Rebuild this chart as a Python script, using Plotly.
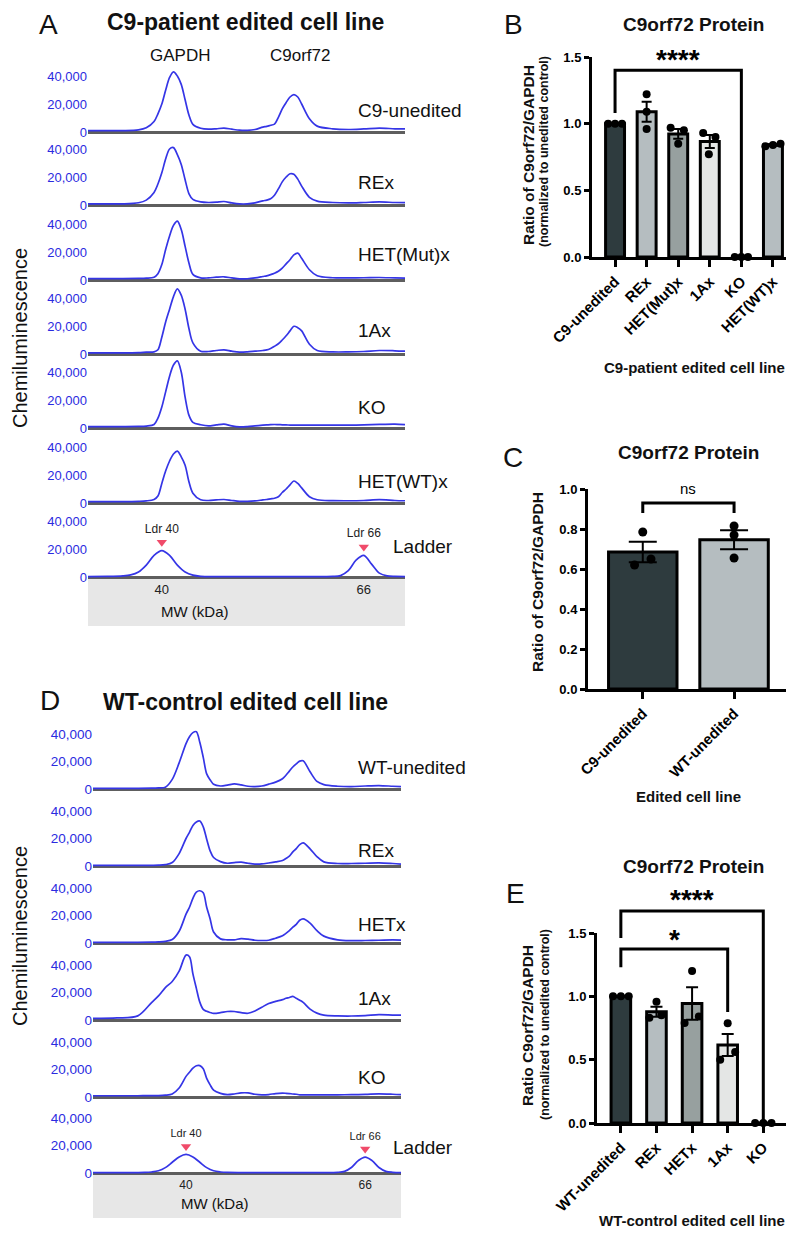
import numpy as np
import plotly.graph_objects as go

# ======================= DATA =======================
# Panel A electropherograms (x = MW in kDa, y = chemiluminescence in thousands)
mw_A = [30.5, 33, 35, 37, 38, 39, 39.5, 40, 40.5, 41, 41.5, 42, 42.5, 43, 43.5, 44, 45, 46, 47, 48,
        49, 50, 51, 52, 53, 53.5, 54, 54.5, 55, 55.5, 56, 56.5, 57, 57.5, 58, 59, 60, 62, 64, 66,
        68, 70, 71.3]
a_c9_unedited_k = [1.0, 1.0, 1.0, 1.5, 3.0, 7.5, 13, 20, 30, 39, 43, 40, 34, 23, 12, 5.5, 2.7, 2.0, 2.3, 2.8,
                   2.0, 1.3, 1.2, 1.8, 3.5, 4.0, 4.8, 5.6, 10.5, 16.5, 21, 25, 26.7, 25, 20, 9.5, 4.2, 2.3, 1.8, 2.2,
                   2.8, 2.3, 2.2]
a_rex_k = [0.8, 0.8, 0.8, 1.6, 3.5, 9, 15, 23, 33, 40, 41, 36, 29, 18, 8, 4, 2.2, 1.8, 2.0, 2.5,
           1.5, 0.8, 0.8, 1.5, 3.0, 3.5, 4.5, 7, 11.5, 16.5, 20, 22.3, 22, 18.5, 13.5, 5.5, 2.8, 1.8, 1.5, 1.8,
           2.2, 1.8, 1.7]
a_hetmut_k = [1.0, 1.0, 1.0, 1.1, 1.3, 2.0, 4.5, 11, 22, 31.5, 39, 42, 36, 24, 12, 4, 1.5, 1.5, 2.0, 2.3,
              1.5, 0.8, 0.9, 1.5, 2.5, 3, 3.8, 4.8, 6.2, 8.5, 11.5, 14.5, 18, 19.2, 15.5, 7.3, 3, 1.6, 1.5, 1.6,
              1.8, 1.5, 1.4]
a_1ax_k = [0.8, 0.8, 0.8, 1.0, 1.3, 1.5, 3, 12, 23, 32, 41, 46.5, 42, 32, 18, 8, 2, 1.8, 2.5, 3.0,
           2.0, 1.3, 1.5, 2, 2.5, 2.9, 4, 5.5, 7.3, 10, 13, 16.5, 19.8, 18.8, 16.5, 7, 2.5, 1.5, 1.5, 1.8,
           2.5, 2.3, 2]
a_ko_k = [1.0, 1.0, 1.0, 1.1, 1.4, 2.5, 7, 15, 26, 37, 45, 48, 40, 22, 9, 4, 2.3, 1.5, 2.2, 2.8,
          1.5, 0.8, 1.0, 1.5, 2.0, 2.2, 2.4, 2.5, 2.4, 2.3, 2.2, 2.1, 2.0, 2.0, 2.0, 2.0, 2.0, 2.0, 2.0, 2.2,
          2.6, 2.8, 2.4]
a_hetwt_k = [1.0, 1.0, 1.0, 1.2, 1.5, 2.5, 5, 14, 23, 30, 35, 37, 33, 27, 15, 7, 2.3, 1.8, 2.2, 2.5,
             1.8, 1.2, 1.2, 1.5, 2.2, 2.5, 3.0, 3.4, 4.5, 7.5, 10, 13, 15.7, 14, 10.8, 4.5, 2.3, 1.7, 1.6, 1.8,
             2.4, 1.8, 1.6]
ladder_mw_A = [30.5, 33, 35, 36, 37, 38, 39, 40, 41, 42, 43, 44, 45, 47, 50, 55, 60, 62, 63, 64,
               65, 66, 67, 68, 69, 70, 71.3]
ladder_A_k = [0.3, 0.4, 0.8, 1.5, 3.6, 8.5, 15.4, 18.8, 15.4, 8.5, 3.6, 1.3, 0.5, 0.3, 0.3, 0.3, 0.3, 0.4, 1.0, 4.5,
              12.0, 15.4, 9.2, 2.8, 0.8, 0.4, 0.3]
a_row_names = ["C9-unedited", "REx", "HET(Mut)x", "1Ax", "KO", "HET(WT)x"]

# Panel D electropherograms
mw_D = [26.5, 30, 33, 35, 36, 37, 38, 39, 40, 40.5, 41, 41.5, 42, 42.5, 43, 43.5, 44, 45, 46, 47,
        48, 49, 50, 51, 52, 53, 54, 54.5, 55, 55.5, 56, 56.5, 57, 58, 59, 60, 62, 64, 66, 68,
        70, 71.2]
d_wt_unedited_k = [0.5, 0.5, 0.5, 0.6, 0.8, 1.3, 7, 19, 33, 38, 41, 41.7, 34, 23, 11, 6.7, 3.5, 2.2, 2.8, 3.7,
                   3.0, 2.0, 1.8, 2.2, 3.5, 5, 7.5, 10, 13, 16, 18.3, 20.3, 20.5, 12.5, 5.5, 3.2, 2, 1.7, 2.2, 2.5,
                   2.0, 1.7]
d_rex_k = [0.4, 0.4, 0.4, 0.5, 0.6, 1.0, 2.5, 9, 20, 24.5, 29.5, 32, 32.7, 28.5, 19.5, 11, 6.2, 3.2, 2.0, 2.5,
           2.8, 2.0, 1.4, 1.5, 2.2, 3.0, 4.0, 5.5, 7.2, 10.3, 12.7, 15.5, 16.8, 12.5, 6.8, 3.0, 1.8, 1.8, 2.0, 2.3,
           1.8, 1.4]
d_hetx_k = [0.5, 0.5, 0.5, 0.6, 0.8, 1.2, 2.5, 8.5, 21, 26, 32.5, 37, 38, 36.5, 26, 17.5, 8, 3, 2.3, 2.3,
            3.2, 2.8, 2.0, 1.8, 2.0, 3.5, 5.3, 7, 9, 11.5, 13.5, 16.5, 17.5, 14.5, 9, 5, 2.3, 1.7, 1.8, 2.0,
            2.2, 2.1]
d_1ax_k = [1.2, 1.5, 3.0, 12.7, 17.5, 23.5, 28, 35.5, 47.2, 46, 33.5, 23, 13, 7.7, 6.3, 5.5, 4.8, 5.3, 6.2, 6.2,
           5.3, 4.9, 6.5, 9.3, 12, 13.5, 14.8, 15.8, 16.4, 17.2, 15.8, 14.4, 12.8, 7.9, 5.0, 3.5, 3.0, 2.9, 3.2, 3.9,
           3.6, 3.5]
d_ko_k = [0.9, 0.9, 0.9, 1.0, 1.0, 1.3, 2.2, 6.5, 15, 18, 21, 22.7, 22.8, 20.5, 13.5, 8.8, 5, 2.6, 1.7, 2.2,
          3.0, 3.0, 2.0, 1.6, 1.8, 2.5, 2.8, 2.7, 2.5, 2.2, 2.0, 1.6, 1.6, 1.6, 1.6, 1.6, 1.6, 1.7, 1.9, 2.3,
          2.0, 1.7]
ladder_mw_D = [26.5, 30, 33, 34, 35, 36, 37, 38, 39, 40, 41, 42, 43, 44, 45, 46, 48, 52, 56, 60,
               62, 63, 64, 65, 66, 67, 68, 69, 70, 71.2]
ladder_D_k = [0.3, 0.3, 0.3, 0.4, 0.75, 1.6, 3.9, 7.8, 11.7, 13.5, 11.7, 7.8, 3.9, 1.6, 0.75, 0.4, 0.3, 0.3, 0.3, 0.3,
              0.5, 1.2, 4.0, 9.0, 11.6, 9.0, 4.0, 1.2, 0.5, 0.3]
d_row_names = ["WT-unedited", "REx", "HETx", "1Ax", "KO"]

ladder_marks_kda = [40, 66]
ladder_mark_text = ["Ldr 40", "Ldr 66"]

# Panel B / C / E bar charts (individual replicate values)
b_categories = ["C9-unedited", "REx", "HET(Mut)x", "1Ax", "KO", "HET(WT)x"]
b_points = [[1.0, 1.0, 1.0], [1.22, 1.09, 0.96], [0.97, 0.95, 0.85],
            [0.93, 0.90, 0.77], [0.0, 0.0, 0.0], [0.83, 0.84, 0.85]]
c_categories = ["C9-unedited", "WT-unedited"]
c_points = [[0.785, 0.65, 0.62], [0.815, 0.77, 0.655]]
e_categories = ["WT-unedited", "REx", "HETx", "1Ax", "KO"]
e_points = [[1.0, 1.0, 1.0], [0.957, 0.83, 0.85], [1.2, 0.84, 0.79],
            [0.787, 0.56, 0.50], [0.0, 0.0, 0.0]]

# ======================= STYLE / LAYOUT =======================
# page body has an 8px default margin: figure is sized/offset so that it fills the 794x1233 window
OFF = 8
W, H = 786, 1225
FONT = "Arial, Liberation Sans, Helvetica, sans-serif"
BLUE_LINE = "#3535e6"
BLUE_TICK = "#2b2be0"
DARK = "#2e3b3e"
LIGHT = "#b5bdc0"
MID = "#97a09f"
PALE = "#e4e6e5"

b_colors = [DARK, LIGHT, MID, PALE, LIGHT, LIGHT]
c_colors = [DARK, LIGHT]
e_colors = [DARK, LIGHT, MID, PALE, LIGHT]
b_offsets = [[-0.22, 0, 0.22], [0, 0, 0], [-0.24, 0.18, 0], [-0.21, 0.18, -0.03], [-0.21, 0, 0.21], [-0.24, 0, 0.24]]
c_offsets = [[0, 0.09, -0.09], [0, 0, 0]]
e_offsets = [[-0.22, 0, 0.22], [0, -0.2, 0.14], [0, 0.19, -0.21], [0, 0.21, -0.21], [-0.23, 0, 0.23]]


def fx(x):
    return (x - OFF) / W


def fy(y):
    return 1 - (y - OFF) / H


layout = dict(width=W, height=H, margin=dict(l=0, r=0, t=0, b=0, pad=0, autoexpand=False),
              paper_bgcolor="white", plot_bgcolor="rgba(0,0,0,0)", showlegend=False,
              font=dict(family=FONT, color="#111"))
data, shapes, annotations = [], [], []
counter = {"n": 0}


def axkeys():
    counter["n"] += 1
    n = counter["n"]
    s = "" if n == 1 else str(n)
    return "xaxis" + s, "yaxis" + s, "x" + s, "y" + s


def text(x, y, s, size, bold=False, color="#111", angle=0, xanchor="center", yanchor="middle"):
    annotations.append(dict(x=fx(x), y=fy(y), xref="paper", yref="paper", text=s, showarrow=False,
                            font=dict(family=FONT, size=size, color=color, weight=700 if bold else 400),
                            textangle=angle, xanchor=xanchor, yanchor=yanchor, borderpad=0))


def trace_row(mw, vals_k, zero_px, ppu, x0px, x1px, ytick_size, ladder_tick_size=None):
    xk, yk, xr, yr = axkeys()
    layout[xk] = dict(domain=[fx(x0px), fx(x1px)], range=[mw[0], mw[-1]], anchor=yr, showgrid=False,
                      zeroline=False, showline=False, ticks="", showticklabels=False, automargin=False)
    if ladder_tick_size:
        layout[xk].update(showticklabels=True, tickvals=ladder_marks_kda,
                          tickfont=dict(family=FONT, size=ladder_tick_size, color="#222"))
    layout[yk] = dict(domain=[fy(zero_px + 3), fy(zero_px - 70)], range=[-3 / ppu, 70 / ppu], anchor=xr,
                      showgrid=False, zeroline=True, zerolinecolor="#5e5e5e", zerolinewidth=2.5,
                      showline=False, ticks="", tickvals=[0, 20000, 40000], tickformat=",", automargin=False,
                      tickfont=dict(family=FONT, size=ytick_size, color=BLUE_TICK))
    data.append(go.Scatter(x=mw, y=[v * 1000 for v in vals_k], xaxis=xr, yaxis=yr, mode="lines",
                           line=dict(color=BLUE_LINE, width=1.7, shape="spline", smoothing=0.9),
                           hoverinfo="skip"))
    return xr, yr


def ladder_markers(xr, yr, mw, vals_k, lift, label_size):
    peaks = np.interp(ladder_marks_kda, mw, vals_k) * 1000
    data.append(go.Scatter(x=ladder_marks_kda, y=peaks + lift, xaxis=xr, yaxis=yr, mode="markers+text",
                           marker=dict(symbol="triangle-down", size=9, color="#f04b6a"),
                           text=ladder_mark_text, textposition="top center",
                           textfont=dict(family=FONT, size=label_size, color="#222"), cliponaxis=False))


class BarPanel:
    def __init__(self, cats, points, offsets, colors, x0px, x1px, ytop_px, ybot_px, xrange_, yrange_,
                 ytickvals, barw, capw, msize):
        self.x0, self.x1, self.yt, self.yb = x0px, x1px, ytop_px, ybot_px
        self.xr, self.yr = xrange_, yrange_
        xk, yk, xref, yref = axkeys()
        layout[xk] = dict(domain=[fx(x0px), fx(x1px)], range=xrange_, anchor=yref, showgrid=False,
                          zeroline=False, showline=True, linecolor="black", linewidth=3, ticks="outside",
                          ticklen=7, tickwidth=3, tickcolor="black", tickvals=list(range(len(cats))),
                          ticktext=cats, tickangle=-45, automargin=False,
                          tickfont=dict(family=FONT, size=15, color="black", weight=700))
        layout[yk] = dict(domain=[fy(ybot_px), fy(ytop_px)], range=yrange_, anchor=xref, showgrid=False,
                          zeroline=False, showline=True, linecolor="black", linewidth=3, ticks="outside",
                          ticklen=5, tickwidth=3, tickcolor="black", tickvals=ytickvals, tickformat=".1f",
                          automargin=False,
                          tickfont=dict(family=FONT, size=13, color="black", weight=700))
        means = [float(np.mean(p)) for p in points]
        sems = [float(np.std(p, ddof=1) / np.sqrt(len(p))) for p in points]
        xs = list(range(len(cats)))
        data.append(go.Bar(x=xs, y=means, width=barw, xaxis=xref, yaxis=yref, cliponaxis=False,
                           marker=dict(color=colors, line=dict(color="black", width=3)),
                           error_y=dict(type="data", array=sems, visible=True, color="black",
                                        thickness=2, width=capw), hoverinfo="skip"))
        px_, py_ = [], []
        for i, (p, o) in enumerate(zip(points, offsets)):
            for v, d in zip(p, o):
                px_.append(i + d)
                py_.append(v)
        data.append(go.Scatter(x=px_, y=py_, xaxis=xref, yaxis=yref, mode="markers", cliponaxis=False,
                               marker=dict(color="black", size=msize), hoverinfo="skip"))

    def X(self, v):
        return self.x0 + (v - self.xr[0]) / (self.xr[1] - self.xr[0]) * (self.x1 - self.x0)

    def Y(self, v):
        return self.yb - (v - self.yr[0]) / (self.yr[1] - self.yr[0]) * (self.yb - self.yt)

    def bracket(self, xa, xb, ytop, ya, yb, label, size, bold=True, lift=0):
        p = (f"M{fx(self.X(xa))},{fy(self.Y(ya))} L{fx(self.X(xa))},{fy(self.Y(ytop))} "
             f"L{fx(self.X(xb))},{fy(self.Y(ytop))} L{fx(self.X(xb))},{fy(self.Y(yb))}")
        shapes.append(dict(type="path", path=p, xref="paper", yref="paper",
                           line=dict(color="black", width=3)))
        text(self.X((xa + xb) / 2), self.Y(ytop) - lift, label, size, bold=bold, color="black")


# ---------------- Panel A ----------------
A_X0, A_X1 = 88, 405
ppu_A = 56 / 40000
a_vals = [a_c9_unedited_k, a_rex_k, a_hetmut_k, a_1ax_k, a_ko_k, a_hetwt_k]
a_zero = [132, 205, 280, 354, 428, 503]
a_label_y = [110, 183, 255, 330, 408, 482]
for name, vals, z, ly in zip(a_row_names, a_vals, a_zero, a_label_y):
    trace_row(mw_A, vals, z, ppu_A, A_X0, A_X1, 13)
    text(357, ly, name, 19, xanchor="left")
shapes.append(dict(type="rect", xref="paper", yref="paper", x0=fx(A_X0), x1=fx(A_X1), y0=fy(626), y1=fy(577),
                   fillcolor="#e7e7e7", line=dict(width=0), layer="below"))
xr, yr = trace_row(ladder_mw_A, ladder_A_k, 577, ppu_A, A_X0, A_X1, 13, ladder_tick_size=13)
ladder_markers(xr, yr, ladder_mw_A, ladder_A_k, 6000, 12)
text(392, 547, "Ladder", 19, xanchor="left")
text(195, 612, "MW (kDa)", 15)
text(48, OFF, "A", 28, yanchor="top")
text(245, OFF, "C9-patient edited cell line", 23, bold=True, yanchor="top")
text(180, 55, "GAPDH", 17)
text(300, 55, "C9orf72", 17)
text(OFF, 338, "Chemiluminescence", 20, angle=-90, xanchor="left")

# ---------------- Panel D ----------------
D_X0, D_X1 = 93, 401
ppu_D = 55 / 40000
d_vals = [d_wt_unedited_k, d_rex_k, d_hetx_k, d_1ax_k, d_ko_k]
d_zero = [789, 866, 943, 1020, 1097]
d_label_y = [767, 850, 924, 998, 1077]
for name, vals, z, ly in zip(d_row_names, d_vals, d_zero, d_label_y):
    trace_row(mw_D, vals, z, ppu_D, D_X0, D_X1, 13.5)
    text(357, ly, name, 19, xanchor="left")
shapes.append(dict(type="rect", xref="paper", yref="paper", x0=fx(D_X0), x1=fx(D_X1), y0=fy(1218), y1=fy(1173),
                   fillcolor="#e7e7e7", line=dict(width=0), layer="below"))
xr, yr = trace_row(ladder_mw_D, ladder_D_k, 1173, ppu_D, D_X0, D_X1, 13.5, ladder_tick_size=12)
ladder_markers(xr, yr, ladder_mw_D, ladder_D_k, 5800, 11)
text(392, 1147, "Ladder", 19, xanchor="left")
text(215, 1203, "MW (kDa)", 15)
text(50, 700, "D", 28)
text(245, 702, "WT-control edited cell line", 23, bold=True)
text(OFF, 936, "Chemiluminescence", 20, angle=-90, xanchor="left")

# ---------------- Panel B ----------------
B = BarPanel(b_categories, b_points, b_offsets, b_colors, 592, 790, 57, 257, [-0.73, 5.54], [0, 1.5],
             [0, 0.5, 1.0, 1.5], 0.6, 5, 8)
B.bracket(0, 4, 1.40, 1.08, 0.0, "****", 28, lift=11)
text(513, OFF, "B", 28, yanchor="top")
text(693, 24, "C9orf72 Protein", 19, bold=True)
text(528, 155, "Ratio of C9orf72/GAPDH", 15.5, bold=True, angle=-90)
text(544, 152, "(normalized to unedited control)", 12.5, bold=True, angle=-90)
text(694, 368, "C9-patient edited cell line", 15, bold=True)

# ---------------- Panel C ----------------
C = BarPanel(c_categories, c_points, c_offsets, c_colors, 588, 787, 489, 689, [-0.6, 1.58], [0, 1.0],
             [0, 0.2, 0.4, 0.6, 0.8, 1.0], 0.75, 14, 9)
C.bracket(0, 1, 0.93, 0.88, 0.88, "ns", 15, bold=False, lift=15)
text(513, 458, "C", 28)
text(688, 452, "C9orf72 Protein", 19, bold=True)
text(537, 582, "Ratio of C9orf72/GAPDH", 15.5, bold=True, angle=-90)
text(688, 797, "Edited cell line", 15, bold=True)

# ---------------- Panel E ----------------
E = BarPanel(e_categories, e_points, e_offsets, e_colors, 597, 790, 933, 1123, [-0.67, 4.75], [0, 1.5],
             [0, 0.5, 1.0, 1.5], 0.55, 6, 8)
E.bracket(0, 4, 1.673, 1.46, 0.0, "****", 28, lift=12)
E.bracket(0, 3, 1.373, 1.23, 0.876, "*", 28, lift=10)
text(515, 893, "E", 28)
text(693, 866, "C9orf72 Protein", 19, bold=True)
text(527, 1026, "Ratio C9orf72/GAPDH", 15.5, bold=True, angle=-90)
text(545, 1025, "(normalized to unedited control)", 12.5, bold=True, angle=-90)
text(692, 1220, "WT-control edited cell line", 15, bold=True)

layout["shapes"] = shapes
layout["annotations"] = annotations
fig = go.Figure(data=data, layout=layout)
fig.write_html("out.html")
